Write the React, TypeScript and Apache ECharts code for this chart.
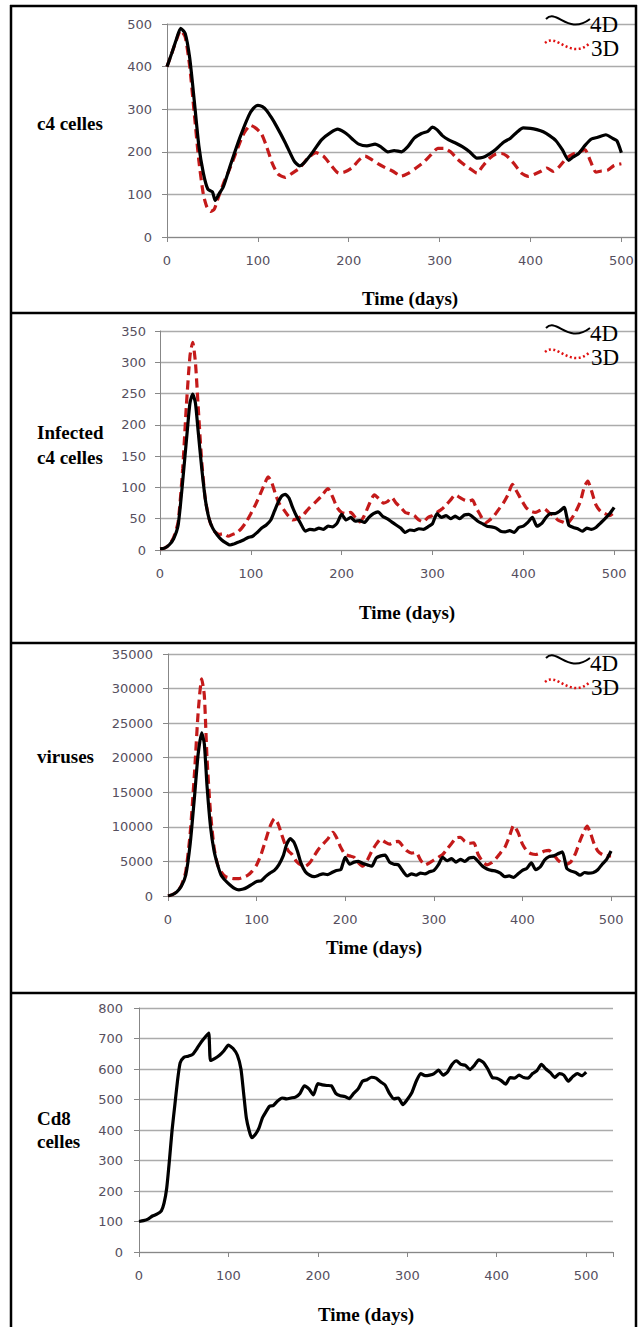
import React, { useEffect, useRef } from "react";
import * as echarts from "echarts";

// ---------- DATA (day, value) ----------
const tickDays = [0, 100, 200, 300, 400, 500];

const c4Cells4D = [[0,400],[5,430],[10,462],[15,490],[20,478],[25,420],[30,320],[35,215],[40,150],[45,112],[50,106],[53,86],[57,100],[62,118],[70,170],[80,232],[90,285],[95,302],[100,309],[105,306],[110,296],[115,280],[120,262],[130,222],[140,178],[146,167],[150,172],[160,198],[170,228],[180,245],[188,253],[195,246],[200,238],[205,228],[211,218],[220,214],[229,218],[235,212],[243,200],[250,203],[258,200],[265,212],[272,232],[280,243],[287,248],[292,258],[297,252],[303,238],[310,228],[318,220],[325,212],[333,200],[341,185],[348,187],[355,195],[362,206],[370,222],[378,232],[385,246],[392,256],[400,255],[407,252],[414,247],[421,238],[428,226],[435,205],[442,180],[447,188],[453,196],[460,215],[467,230],[474,234],[483,240],[490,232],[495,226],[500,198]];
const c4Cells3D = [[0,400],[5,430],[10,460],[15,485],[20,470],[25,400],[30,290],[35,180],[40,100],[44,70],[48,60],[52,65],[56,90],[62,125],[70,165],[78,210],[85,245],[92,262],[98,255],[104,242],[110,210],[116,172],[122,148],[130,140],[138,150],[146,162],[155,185],[164,198],[172,190],[180,170],[189,150],[196,153],[204,163],[211,180],[218,190],[225,182],[232,172],[240,163],[248,155],[258,143],[266,150],[274,162],[282,175],[290,192],[298,208],[305,208],[312,200],[320,182],[328,168],[335,158],[341,150],[348,168],[355,185],[362,195],[368,196],[374,190],[382,172],[390,150],[398,142],[405,148],[412,155],[418,162],[425,154],[432,166],[440,186],[447,195],[454,200],[460,205],[466,178],[472,152],[478,155],[485,157],[492,168],[500,172]];

const infected4D = [[0,2],[5,3],[10,8],[15,18],[20,40],[25,110],[30,190],[33,235],[36,249],[39,235],[42,190],[46,130],[50,80],[54,50],[58,35],[63,24],[68,16],[73,11],[77,8],[82,10],[87,13],[92,16],[97,20],[102,22],[107,28],[112,35],[117,40],[122,48],[126,62],[130,76],[134,86],[138,89],[142,83],[146,68],[150,55],[155,42],[160,30],[165,33],[170,32],[175,35],[180,33],[185,38],[190,37],[195,43],[200,57],[205,48],[210,52],[215,46],[220,47],[225,44],[230,52],[235,58],[240,61],[245,54],[250,50],[255,45],[260,40],[265,35],[270,28],[275,32],[280,31],[285,34],[290,33],[295,37],[300,42],[305,58],[310,52],[315,55],[320,50],[325,54],[330,50],[335,56],[340,57],[345,52],[350,46],[355,42],[360,38],[365,37],[370,35],[375,30],[380,29],[385,31],[390,28],[395,36],[400,38],[405,44],[410,52],[415,38],[420,42],[425,52],[430,58],[435,58],[440,62],[445,68],[450,40],[455,36],[460,34],[465,30],[470,35],[475,33],[480,36],[485,43],[490,50],[495,58],[500,68]];
const infected3D = [[0,2],[5,3],[10,8],[15,20],[20,45],[25,130],[29,230],[33,310],[36,332],[39,300],[42,230],[46,140],[50,80],[55,45],[60,30],[65,25],[70,26],[75,22],[80,25],[85,28],[90,35],[95,45],[100,58],[105,72],[110,88],[115,105],[119,117],[123,108],[127,90],[131,75],[136,65],[141,55],[146,48],[151,50],[157,55],[163,65],[170,75],[177,85],[185,98],[190,85],[195,68],[200,60],[205,58],[210,60],[215,52],[220,45],[225,55],[230,72],[236,88],[241,82],[246,75],[251,78],[255,84],[260,75],[265,68],[270,60],[275,58],[280,55],[285,48],[290,45],[295,52],[300,55],[305,60],[310,65],[315,72],[320,80],[325,88],[330,84],[335,80],[340,78],[344,80],[348,68],[353,55],[358,43],[363,48],[368,55],[373,65],[378,75],[383,88],[388,105],[393,93],[398,80],[403,68],[408,62],[413,60],[418,63],[423,66],[428,60],[433,55],[438,48],[443,45],[448,42],[453,50],[458,62],[463,78],[467,100],[471,110],[475,95],[480,72],[485,62],[490,58],[495,55],[500,60]];

const viruses4D = [[0,0],[5,200],[10,600],[15,1400],[20,3000],[25,7500],[30,14500],[34,20500],[38,23600],[41,22000],[44,16000],[48,10000],[52,6500],[56,4500],[60,3000],[65,2200],[70,1600],[75,1100],[80,900],[85,1000],[90,1300],[95,1700],[100,2100],[105,2200],[110,2800],[115,3300],[120,3700],[125,4500],[130,5800],[134,7500],[138,8300],[142,7800],[146,6500],[150,4800],[155,3500],[160,3000],[165,2800],[170,3000],[175,3200],[180,3100],[185,3400],[190,3700],[195,3800],[200,5600],[205,4600],[210,4900],[215,5000],[220,4700],[225,4500],[230,4300],[235,5500],[240,5800],[245,5900],[250,4900],[255,4600],[260,4500],[265,3600],[270,2900],[275,3200],[280,3000],[285,3300],[290,3200],[295,3500],[300,3700],[305,4500],[310,5600],[315,5100],[320,5400],[325,4900],[330,5300],[335,5000],[340,5500],[345,5600],[350,5000],[355,4300],[360,3900],[365,3700],[370,3600],[375,3300],[380,2800],[385,2900],[390,2700],[395,3200],[400,3700],[405,4000],[410,4800],[415,3800],[420,4200],[425,5200],[430,5700],[435,5800],[440,6100],[445,6400],[450,4000],[455,3600],[460,3400],[465,3000],[470,3400],[475,3300],[480,3400],[485,3800],[490,4600],[495,5300],[500,6500]];
const viruses3D = [[0,0],[5,200],[10,600],[15,1500],[20,3500],[25,9000],[30,18000],[34,26500],[38,31400],[41,29000],[44,20000],[48,12000],[52,7000],[56,4500],[60,3500],[65,2800],[70,2600],[75,2500],[80,2500],[85,2700],[90,3000],[95,3600],[100,4500],[105,6000],[110,8000],[115,10000],[120,11200],[124,10500],[128,9000],[132,7500],[136,6500],[140,6000],[145,5000],[150,4500],[155,4300],[160,4800],[165,5800],[170,6800],[175,7500],[180,8200],[186,9200],[190,8500],[195,7000],[200,6000],[205,5800],[210,5600],[215,4800],[220,4300],[225,5200],[230,6500],[235,7500],[240,8200],[245,7800],[250,7500],[255,7800],[260,7900],[265,7200],[270,6500],[275,6200],[280,6300],[285,5200],[290,4500],[295,4800],[300,5200],[305,5600],[310,6000],[315,6800],[320,7600],[325,8400],[330,8500],[335,7900],[340,7600],[345,7700],[350,6000],[355,5000],[360,4500],[365,4800],[370,5400],[375,6200],[380,7000],[385,8500],[390,10200],[395,9200],[400,7500],[405,6500],[410,6100],[415,6000],[420,6200],[425,6500],[430,6600],[435,6000],[440,5200],[445,4700],[450,4600],[455,5000],[460,6200],[465,8000],[470,9500],[473,10100],[477,9000],[481,7500],[485,6500],[490,6000],[495,5800],[500,5800]];

const cd8Cells = [[0,100],[5,103],[10,108],[15,118],[20,124],[25,135],[28,160],[31,210],[34,300],[37,400],[40,480],[43,560],[46,620],[50,638],[55,642],[60,648],[65,668],[70,690],[75,708],[78,718],[80,628],[85,635],[90,645],[95,660],[100,678],[105,668],[110,645],[114,600],[117,520],[120,440],[123,400],[126,375],[130,385],[134,405],[138,440],[142,460],[146,478],[150,480],[155,495],[160,505],[165,502],[170,505],[175,508],[180,520],[185,545],[190,535],[195,515],[200,552],[205,548],[210,546],[215,545],[220,520],[225,512],[230,510],[235,503],[240,520],[245,535],[250,560],[255,565],[260,573],[265,570],[270,558],[275,548],[280,520],[285,502],[290,505],[295,483],[300,500],[305,522],[310,560],[315,585],[320,578],[325,580],[330,585],[335,596],[340,580],[345,590],[350,615],[355,627],[360,615],[365,612],[370,598],[375,612],[380,630],[385,622],[390,600],[395,572],[400,570],[405,562],[410,550],[415,572],[420,570],[425,580],[430,572],[435,570],[440,585],[445,595],[450,615],[455,600],[460,588],[465,572],[470,585],[475,580],[480,560],[485,575],[490,585],[495,578],[500,590]];

const seriesNames = ["4D", "3D"];
const yTitles = [["c4 celles"], ["Infected", "c4 celles"], ["viruses"], ["Cd8", "celles"]];
const xTitle = "Time (days)";
const yMax = [500, 350, 35000, 800];
const yStep = [100, 50, 5000, 100];

// ---------- LAYOUT ----------
const panels = [
  { left: 167, top: 24, width: 469, height: 213, xMax: 515, labM: 15, titleY: [123], xTitleX: 410, xTitleY: 298, legTop: 6 },
  { left: 160, top: 331, width: 476, height: 219, xMax: 523, labM: 14, titleY: [432, 457], xTitleX: 407, xTitleY: 612, legTop: 315 },
  { left: 168, top: 654, width: 468, height: 242, xMax: 527, labM: 15, titleY: [756], xTitleX: 374, xTitleY: 947, legTop: 645 },
  { left: 139, top: 1008, width: 474, height: 244, xMax: 530, labM: 16, titleY: [1118, 1141], xTitleX: 366, xTitleY: 1314, legTop: -1 },
];

const BLACK = "#000000";
const RED = "#c41a1a";
const AXIS = "#878787";
const GRID = "#ababab";
const LABEL = "#564f5e";

export default function App() {
  const ref = useRef<HTMLDivElement>(null);
  useEffect(() => {
    if (!ref.current) return;
    const chart = echarts.init(ref.current, undefined, { renderer: "svg" });

    const labelStyle = { fontFamily: "DejaVu Sans", fontSize: 13, color: LABEL };
    const grid = panels.map((p) => ({ left: p.left, top: p.top, width: p.width, height: p.height }));
    const xAxis = panels.map((p, i) => ({
      type: "value", gridIndex: i, min: 0, max: p.xMax, interval: 100,
      axisLine: { show: true, lineStyle: { color: AXIS, width: 1 } },
      axisTick: { show: true, length: 5, lineStyle: { color: AXIS } },
      splitLine: { show: false },
      axisLabel: { ...labelStyle, margin: 17, formatter: (v: number) => (tickDays.includes(v) ? String(v) : "") },
    }));
    const yAxis = panels.map((p, i) => ({
      type: "value", gridIndex: i, min: 0, max: yMax[i], interval: yStep[i],
      axisLine: { show: true, lineStyle: { color: AXIS, width: 1 } },
      axisTick: { show: true, length: 5, lineStyle: { color: AXIS } },
      splitLine: { show: true, lineStyle: { color: GRID, width: 1.3 } },
      axisLabel: { ...labelStyle, margin: p.labM, formatter: (v: number) => String(v) },
    }));

    const mk = (name: string, data: number[][], idx: number, red: boolean) => ({
      name, type: "line", xAxisIndex: idx, yAxisIndex: idx, data, showSymbol: false, smooth: 0.2,
      lineStyle: red ? { color: RED, width: 3.2, type: [9, 5] } : { color: BLACK, width: 3.2 },
      z: red ? 2 : 3,
    });

    const series = [
      mk(seriesNames[1], c4Cells3D, 0, true),
      mk(seriesNames[0], c4Cells4D, 0, false),
      mk(seriesNames[1], infected3D, 1, true),
      mk(seriesNames[0], infected4D, 1, false),
      mk(seriesNames[1], viruses3D, 2, true),
      mk(seriesNames[0], viruses4D, 2, false),
      mk(seriesNames[0], cd8Cells, 3, false),
    ];

    const graphics: any[] = [];
    const border = (x1: number, y1: number, x2: number, y2: number) =>
      graphics.push({ type: "line", shape: { x1, y1, x2, y2 }, style: { stroke: "#000", lineWidth: 2.5 }, z: 100 });
    border(10, 6, 637, 6);
    border(11, 5, 11, 1327);
    border(636, 5, 636, 1327);
    border(10, 313, 637, 313);
    border(10, 643, 637, 643);
    border(10, 993, 637, 993);

    const titleFont = { fontFamily: "Liberation Serif", fontSize: 19, fontWeight: "bold", fill: "#000" };
    panels.forEach((p, i) => {
      yTitles[i].forEach((t, k) =>
        graphics.push({ type: "text", x: 37, y: p.titleY[k], style: { ...titleFont, text: t, textAlign: "left", textVerticalAlign: "middle" }, z: 50 })
      );
      graphics.push({ type: "text", x: p.xTitleX, y: p.xTitleY, style: { ...titleFont, text: xTitle, textAlign: "center", textVerticalAlign: "middle" }, z: 50 });
      if (p.legTop >= 0) {
        const t = p.legTop;
        graphics.push({ type: "bezierCurve", shape: { x1: 546, y1: t + 13, cpx1: 557, cpy1: t + 2, cpx2: 568, cpy2: t + 30, x2: 590, y2: t + 13 }, style: { stroke: BLACK, lineWidth: 2, fill: "none" }, z: 51 });
        graphics.push({ type: "bezierCurve", shape: { x1: 545, y1: t + 37, cpx1: 557, cpy1: t + 26, cpx2: 570, cpy2: t + 55, x2: 590, y2: t + 37 }, style: { stroke: "#e01010", lineWidth: 2.5, lineDash: [2, 2.5], fill: "none" }, z: 51 });
        graphics.push({ type: "text", x: 590, y: t + 18, style: { text: seriesNames[0], fontFamily: "Liberation Serif", fontSize: 23, fill: "#000", textAlign: "left", textVerticalAlign: "middle" }, z: 52 });
        graphics.push({ type: "text", x: 591, y: t + 42, style: { text: seriesNames[1], fontFamily: "Liberation Serif", fontSize: 23, fill: "#000", textAlign: "left", textVerticalAlign: "middle" }, z: 52 });
      }
    });

    chart.setOption({
      animation: false,
      backgroundColor: "#ffffff",
      grid, xAxis, yAxis, series,
      graphic: { elements: graphics },
    });
    return () => chart.dispose();
  }, []);

  return <div ref={ref} style={{ position: "absolute", left: 0, top: 0, width: 638, height: 1327 }} />;
}
